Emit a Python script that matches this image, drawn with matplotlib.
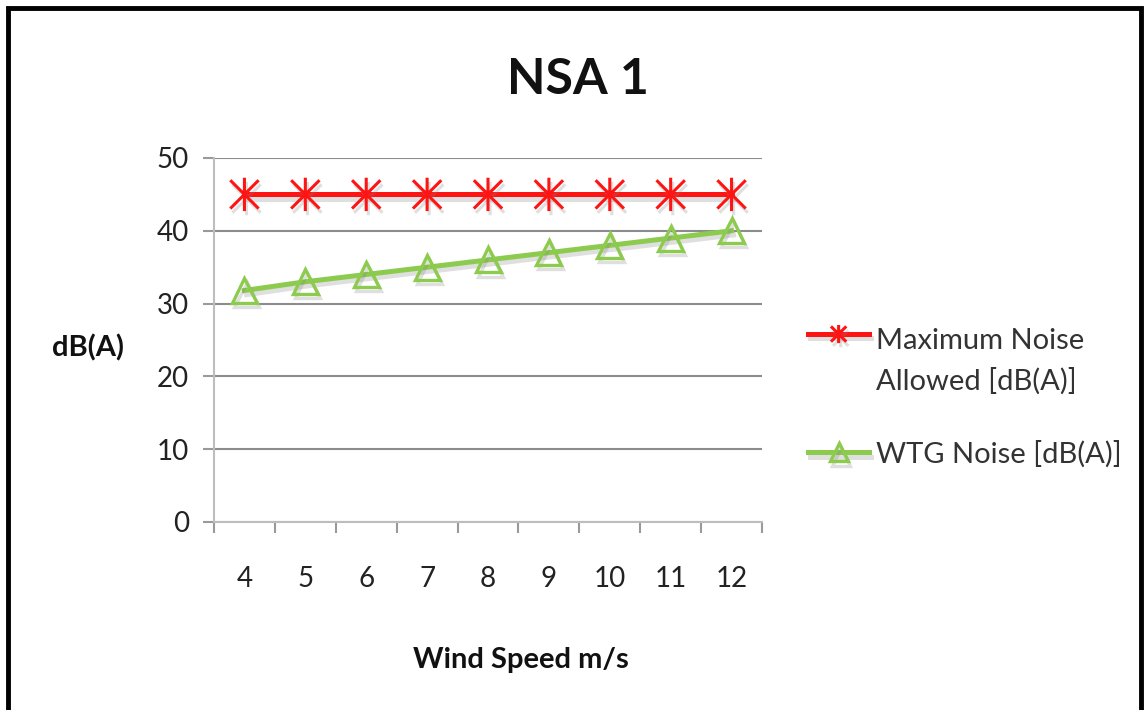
import matplotlib
matplotlib.use("Agg")
import matplotlib.pyplot as plt
import matplotlib.patheffects as pe
from matplotlib.path import Path
from matplotlib.patches import Rectangle
from matplotlib.ticker import FixedLocator
from matplotlib.legend_handler import HandlerLine2D

plt.rcParams['font.family'] = ['Lato', 'DejaVu Sans']

# ---- data ----
wind_speed = [4, 5, 6, 7, 8, 9, 10, 11, 12]
max_noise = [45, 45, 45, 45, 45, 45, 45, 45, 45]
wtg_noise = [31.8, 33, 34, 35, 36, 37, 38, 39, 40]
y_ticks = [0, 10, 20, 30, 40, 50]
title = "NSA 1"
x_label = "Wind Speed m/s"
y_label = "dB(A)"
label_max = "Maximum Noise\nAllowed [dB(A)]"
label_wtg = "WTG Noise [dB(A)]"

W, H = 1144, 710
fig = plt.figure(figsize=(W / 100, H / 100), dpi=100)
fig.patch.set_facecolor("white")

# outer frame
fig.patches.append(Rectangle((8 / W, -0.05), (1141 - 8) / W, 1.05 - 8 / H,
                             transform=fig.transFigure, fill=False,
                             edgecolor="black", linewidth=3.5, zorder=0))

ax = fig.add_axes([214 / W, 1 - 522 / H, (762 - 214) / W, (522 - 158) / H])

# asterisk marker (vertical + two diagonals)
d = 0.85
star = Path([(0, -1), (0, 1), (-d, -d), (d, d), (-d, d), (d, -d)],
            [Path.MOVETO, Path.LINETO, Path.MOVETO, Path.LINETO, Path.MOVETO, Path.LINETO])

shadow = [pe.SimpleLineShadow(offset=(1.5, -3), shadow_color="gray", alpha=0.25), pe.Normal()]

red = "#FF1414"
green = "#8DCB4E"

ax.plot(wind_speed, max_noise, color=red, linewidth=3.6, marker=star,
        markersize=24, markeredgewidth=2.2, markeredgecolor=red,
        label=label_max, zorder=4, path_effects=shadow)
ax.plot(wind_speed, wtg_noise, color=green, linewidth=3.6, marker="^",
        markersize=18, markeredgewidth=2.4, markeredgecolor=green,
        markerfacecolor="none", label=label_wtg, zorder=3, path_effects=shadow)

ax.set_xlim(3.5, 12.5)
ax.set_ylim(0, 50)
ax.set_yticks(y_ticks)
ax.set_xticks(wind_speed)
ax.xaxis.set_minor_locator(FixedLocator([w - 0.5 for w in wind_speed] + [wind_speed[-1] + 0.5]))
ax.tick_params(axis="x", which="major", length=0, pad=32, labelsize=20, colors="#222222")
ax.tick_params(axis="x", which="minor", length=8, width=1.5, color="#9a9a9a", direction="out")
ax.tick_params(axis="y", which="major", length=8, width=1.5, color="#9a9a9a", pad=10,
               labelsize=20, labelcolor="#222222")

ax.grid(axis="y", color="#8c8c8c", linewidth=1.5)
ax.set_axisbelow(True)
for s in ["top", "right"]:
    ax.spines[s].set_visible(False)
for s in ["left", "bottom"]:
    ax.spines[s].set_color("#bdbdbd")
    ax.spines[s].set_linewidth(1.5)

fig.text(578 / W, 1 - 80 / H, title, fontsize=36, fontweight="bold",
         ha="center", va="center", color="#111111")
fig.text(88 / W, 1 - 348 / H, y_label, fontsize=21, fontweight="bold",
         ha="center", va="center", color="#111111")
fig.text(521 / W, 1 - 660 / H, x_label, fontsize=21, fontweight="bold",
         ha="center", va="center", color="#111111")


class ShiftedLineHandler(HandlerLine2D):
    def __init__(self, shift=0.0, **kw):
        super().__init__(**kw)
        self.shift = shift

    def create_artists(self, legend, orig_handle, xdescent, ydescent, width, height, fontsize, trans):
        return super().create_artists(legend, orig_handle, xdescent, ydescent - 2 * self.shift,
                                      width, height, fontsize, trans)


lines = ax.get_lines()
leg = fig.legend(handles=lines, labels=[label_max, label_wtg],
                 loc="upper left", bbox_to_anchor=(808 / W, 1 - 328 / H),
                 frameon=False, borderpad=0, borderaxespad=0, fontsize=21,
                 handlelength=2.1, handletextpad=0.22, labelspacing=1.55,
                 handler_map={lines[0]: ShiftedLineHandler(shift=20)})
for t in leg.get_texts():
    t.set_color("#333333")
    t.set_linespacing(1.62)
for h in leg.legend_handles:
    h.set_markersize(13)

fig.savefig("out.png", dpi=100)
